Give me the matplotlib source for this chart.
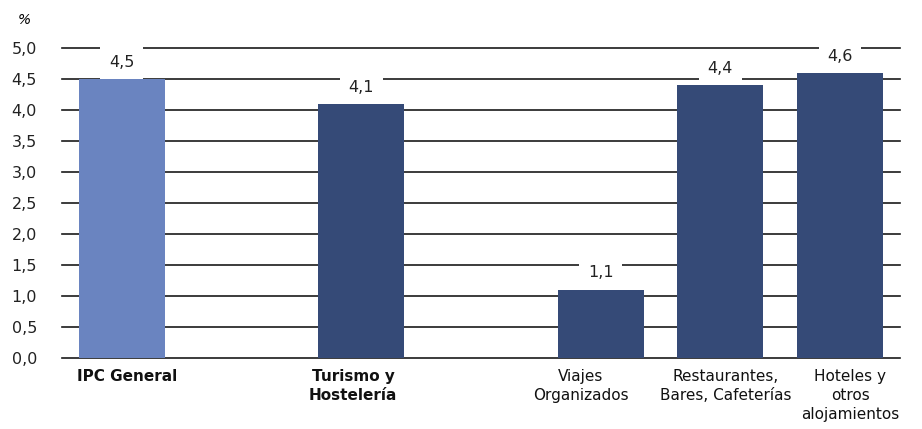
import matplotlib
matplotlib.use("Agg")
import matplotlib.pyplot as plt
import matplotlib.transforms as mtransforms
from matplotlib.ticker import FuncFormatter

# datos
categorias = ["IPC General", "Turismo y\nHostelería", "Viajes\nOrganizados",
              "Restaurantes,\nBares, Cafeterías", "Hoteles y\notros\nalojamientos"]
valores = [4.5, 4.1, 1.1, 4.4, 4.6]
etiquetas = ["4,5", "4,1", "1,1", "4,4", "4,6"]

# huecos entre grupos
posiciones = [0, 2, 4, 5, 6]
colores = ["#6a84c0", "#354a77", "#354a77", "#354a77", "#354a77"]
negrita = [True, True, False, False, False]
desplaz = [5, -8, -20, 5, 10]  # px, ajuste horizontal de etiquetas

fig = plt.figure(figsize=(9.22, 4.29), dpi=100)
ax = fig.add_axes([0.0672, 0.166, 0.9088, 0.722])

ax.bar(posiciones, valores, width=0.72, color=colores, zorder=2)

for x, v, t in zip(posiciones, valores, etiquetas):
    ax.annotate(t, (x, v), xytext=(0, 12), textcoords="offset points",
                ha="center", va="center", fontsize=11.5, color="#222222",
                bbox=dict(boxstyle="square,pad=0.55", fc="white", ec="none"),
                zorder=3)

ax.set_xlim(-0.5, 6.5)
ax.set_ylim(0, 5)
ax.set_yticks([i * 0.5 for i in range(11)])
ax.yaxis.set_major_formatter(FuncFormatter(lambda v, p: f"{v:.1f}".replace(".", ",")))
ax.yaxis.grid(True, color="#1a1a1a", linewidth=1.2, zorder=0)
ax.set_axisbelow(True)
for gl in ax.get_ygridlines():
    gl.set_clip_on(False)

# etiquetas de categoría como texto
ax.set_xticks([])
base = mtransforms.blended_transform_factory(ax.transData, ax.transAxes)
for x, c, b, dx in zip(posiciones, categorias, negrita, desplaz):
    off = mtransforms.ScaledTranslation(dx / 100, -11 / 100, fig.dpi_scale_trans)
    ax.text(x, 0, c, transform=base + off, ha="center", va="top",
            fontsize=11, linespacing=1.35, color="#111111",
            fontweight="bold" if b else "normal")

ax.tick_params(axis="both", length=0, labelsize=11.5)
ax.tick_params(axis="y", pad=18, labelcolor="#222222")
for s in ax.spines.values():
    s.set_visible(False)

fig.text(0.026, 0.953, "%", fontsize=10, style="italic", ha="center", va="center")

fig.savefig("out.png", dpi=100)
